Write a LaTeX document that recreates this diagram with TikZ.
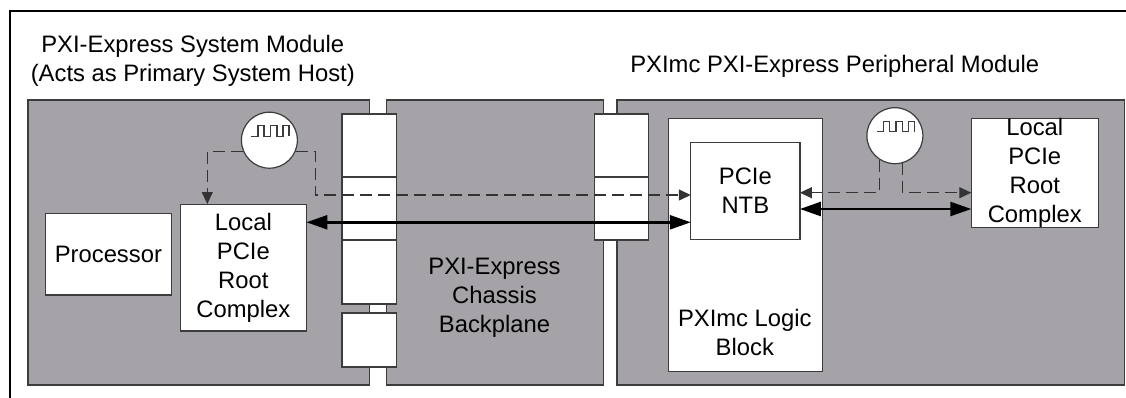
\documentclass[tikz,border=0pt]{standalone}
\usepackage{fontspec}
\setmainfont{Liberation Sans}
\usetikzlibrary{arrows.meta}
\definecolor{modgray}{HTML}{A5A3A7}
\definecolor{edgegray}{HTML}{3C3C3C}
\tikzset{
  modulebox/.style={draw=edgegray, fill=modgray, line width=1.2pt, minimum width=#1, inner sep=0pt, minimum height=285pt},
  slotbox/.style={draw=edgegray, fill=white, line width=1.2pt, minimum width=54.4pt, inner sep=0pt},
  blockbox/.style={draw=edgegray, fill=white, line width=1.2pt, inner sep=0pt, align=center},
  clockosc/.style={circle, draw=edgegray, fill=white, line width=1.2pt, inner sep=0pt, minimum size=56pt},
  txt/.style={inner sep=0pt, align=center},
  clkline/.style={draw=black!80, line width=1.2pt, dash pattern=on 12pt off 6pt, -{Triangle[length=12pt,width=11pt]}},
  busline/.style={black, line width=2.4pt, {Triangle[length=21pt,width=14pt]}-{Triangle[length=21pt,width=14pt]}}
}
\newcommand{\squarewave}[1]{
  \draw[edgegray, line width=1.2pt] ([shift={(-18pt,4pt)}]#1.center) -- ++(6.5,0) -- ++(0,-10.5) -- ++(6,0) -- ++(0,10.5) -- ++(6.5,0) -- ++(0,-10.5) -- ++(6.5,0) -- ++(0,10.5) -- ++(6,0) -- ++(0,-10.5) -- ++(6,0) -- ++(0,10.5);
}
\begin{document}
\begin{tikzpicture}[x=1pt, y=-1pt, every node/.append style={font=\fontsize{23.8}{29}\selectfont}]
\useasboundingbox (0,0) rectangle (1126,398);
\fill[white] (0,0) rectangle (1126,398);
\coordinate (frameA) at (10,398);
\coordinate (frameB) at (10,11);
\coordinate (frameC) at (1126,11);
\draw[black, line width=1.8pt] (frameA) -- (frameB) -- (frameC);

% titles
\node[txt] (titleL) at (192.8,61) {PXI-Express System Module\\(Acts as Primary System Host)};
\node[txt] (titleR) at (834.7,66.5) {PXImc PXI-Express Peripheral Module};

% modules
\node[modulebox=341.7pt] (sysmod) at (198.75,242.5) {};
\node[modulebox=216.7pt] (backplane) at (495.15,242.5) {};
\node[modulebox=507.7pt] (perimod) at (870.75,242.5) {};
\node[txt] (backtxt) at (494.5,298) {PXI-Express\\Chassis\\Backplane};

% slots
\node[slotbox, minimum height=63pt] (slotA) at (369.2,145.5) {};
\node[slotbox, minimum height=63pt] (slotB) at (369.2,208.5) {};
\node[slotbox, minimum height=64pt] (slotC) at (369.2,272) {};
\node[slotbox, minimum height=54pt] (slotD) at (369.2,340) {};
\node[slotbox, minimum height=63pt] (slotE) at (621.6,145.5) {};
\node[slotbox, minimum height=63pt] (slotF) at (621.6,208.5) {};

% blocks
\node[blockbox, minimum width=126pt, minimum height=81.5pt] (proc) at (108.4,254.25) {Processor};
\node[blockbox, minimum width=126.1pt, minimum height=126.5pt] (localL) at (243.35,267.75) {Local\\PCIe\\Root\\Complex};
\node[blockbox, minimum width=153.7pt, minimum height=252.5pt] (logic) at (745.55,245) {};
\node[txt] (logictxt) at (744.8,332.5) {PXImc Logic\\Block};
\node[blockbox, minimum width=109.1pt, minimum height=97pt] (ntb) at (745.35,190.8) {PCIe\\NTB};
\node[blockbox, minimum width=126.9pt, minimum height=108.3pt] (localR) at (1034.75,172.85) {Local\\PCIe\\Root\\Complex};

% clocks
\node[clockosc] (clkL) at (269.4,140.2) {};
\node[clockosc] (clkR) at (894.9,135.7) {};
\squarewave{clkL}
\squarewave{clkR}

\coordinate (clkLa) at (207.3,204);
\coordinate (clkLb) at (315.3,195);
\coordinate (clkLc) at (690.8,195);
\coordinate (ntbclk) at (799.9,192.7);
\coordinate (localclk) at (971.3,192.7);
\coordinate (busLa) at (306.4,222.3);
\coordinate (busLb) at (690.8,222.3);
\coordinate (busRa) at (799.9,209);
\coordinate (busRb) at (971.3,209);

\draw[clkline] (clkL.204) -| (clkLa);
\draw[clkline] (clkL.336) -| (clkLb) -- (clkLc);
\draw[clkline] (clkR.237.6) |- (ntbclk);
\draw[clkline] (clkR.285.3) |- (localclk);
\draw[busline] (busLa) -- (busLb);
\draw[busline] (busRa) -- (busRb);
\end{tikzpicture}
\end{document}
